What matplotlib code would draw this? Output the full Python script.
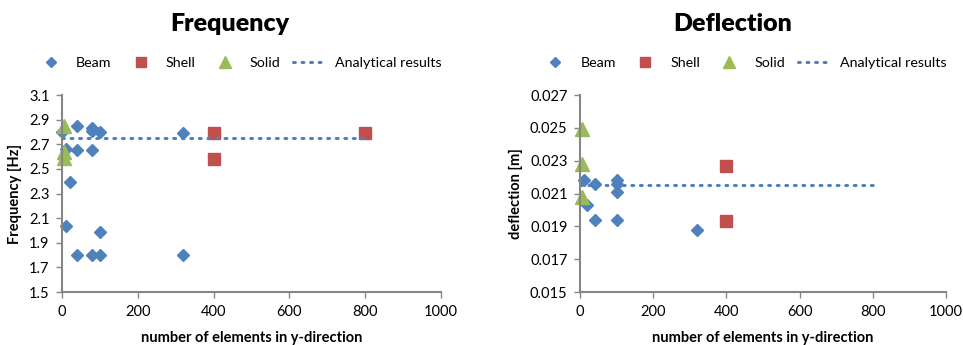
import numpy as np
import matplotlib.pyplot as plt
from matplotlib.ticker import FormatStrFormatter

plt.rcParams['font.family'] = ['Lato', 'DejaVu Sans']

# frequency results [Hz]
beam_n_f = [0, 10, 10, 20, 40, 40, 40, 80, 80, 80, 80, 100, 100, 100, 320, 320]
beam_f = [2.80, 2.66, 2.04, 2.39, 2.85, 2.65, 1.80, 2.83, 2.81, 2.65, 1.80, 2.80, 1.99, 1.80, 2.79, 1.80]
shell_n_f = [400, 400, 800]
shell_f = [2.79, 2.58, 2.79]
solid_n_f = [5, 5, 5]
solid_f = [2.85, 2.64, 2.59]
analytic_n = [0, 800]
analytic_f = [2.75, 2.75]

# deflection results [m]
beam_n_d = [10, 20, 40, 40, 100, 100, 100, 100, 320]
beam_d = [0.0218, 0.0203, 0.0216, 0.0194, 0.0218, 0.0216, 0.0211, 0.0194, 0.0188]
shell_n_d = [400, 400]
shell_d = [0.0227, 0.0193]
solid_n_d = [5, 5, 5]
solid_d = [0.0249, 0.0228, 0.0208]
analytic_d = [0.0215, 0.0215]

blue = '#4F81BD'
red = '#C0504D'
green = '#9BBB59'
gray = '#868686'

fig = plt.figure(figsize=(9.63, 3.45), dpi=100)
ax1 = fig.add_axes([0.0644, 0.1536, 0.3936, 0.571])
ax2 = fig.add_axes([0.6023, 0.1536, 0.3801, 0.571])


def draw(ax, bn, bv, sn, sv, tn, tv, av, yticks, fmt, ylabel, title, tx, lx):
    ax.plot(bn, bv, ls='none', marker='D', ms=6, color=blue, label='Beam', clip_on=False)
    ax.plot(sn, sv, ls='none', marker='s', ms=8.5, color=red, label='Shell', clip_on=False)
    ax.plot(tn, tv, ls='none', marker='^', ms=10, color=green, label='Solid', clip_on=False)
    ax.plot(analytic_n, av, ls=(0, (0.6, 2.2)), lw=2.2, color=blue,
            dash_capstyle='round', label='Analytical results')
    ax.set_xlim(0, 1000)
    ax.set_xticks(np.arange(0, 1001, 200))
    ax.set_ylim(yticks[0], yticks[-1])
    ax.set_yticks(yticks)
    ax.yaxis.set_major_formatter(FormatStrFormatter(fmt))
    for s in ['top', 'right']:
        ax.spines[s].set_visible(False)
    for s in ['left', 'bottom']:
        ax.spines[s].set_color(gray)
        ax.spines[s].set_linewidth(1.5)
    ax.tick_params(color=gray, width=1, length=4, labelsize=10.5, pad=5)
    ax.set_xlabel('number of elements in y-direction', fontsize=10.5, fontweight='bold', labelpad=9)
    ax.set_ylabel(ylabel, fontsize=10.5, fontweight='bold', labelpad=5)
    fig.text(tx, 0.93, title, ha='center', va='center', fontsize=18, fontweight='heavy')
    fig.legend(handles=ax.get_lines(), loc='center', bbox_to_anchor=(lx, 0.818),
               ncol=4, frameon=False, fontsize=10.3, handlelength=2.3, markerscale=0.8,
               columnspacing=0.9, handletextpad=0.6)


draw(ax1, beam_n_f, beam_f, shell_n_f, shell_f, solid_n_f, solid_f, analytic_f,
     np.round(np.arange(1.5, 3.11, 0.2), 1), '%.1f', 'Frequency [Hz]', 'Frequency', 0.239, 0.247)
draw(ax2, beam_n_d, beam_d, shell_n_d, shell_d, solid_n_d, solid_d, analytic_d,
     np.round(np.arange(0.015, 0.0271, 0.002), 3), '%.3f', 'deflection [m]', 'Deflection', 0.761, 0.771)

fig.savefig('out.png', dpi=100)
